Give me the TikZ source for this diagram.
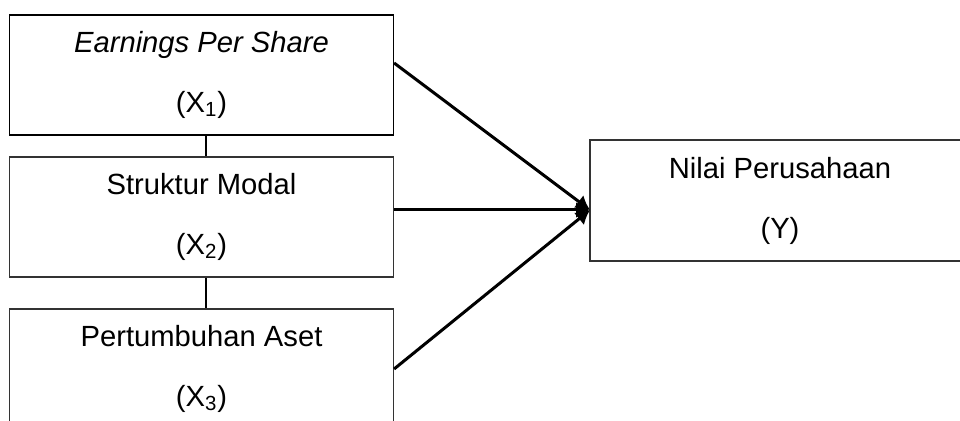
\documentclass[tikz,border=0pt]{standalone}
\usepackage{fontspec}
\setmainfont{Liberation Sans}
\usepackage{tikz}
\usetikzlibrary{positioning, arrows.meta, calc}

\begin{document}
\begin{tikzpicture}[
    x=0.5pt, y=-0.5pt,
    every node/.style={rectangle, draw=black!80, line width=0.6pt, align=center,
        font=\fontsize{14.6}{30}\selectfont},
    variabel/.style={minimum width=192pt, minimum height=60pt},
    hasil/.style={minimum width=190pt, minimum height=60.5pt},
    panah/.style={->, line width=1.5pt},
    garis/.style={line width=0.6pt},
    >={Latex[length=7pt, width=8pt]}
]
\useasboundingbox (0,0) rectangle (960,421);
\clip (0,0) rectangle (960,421);

% variabel independen
\node[variabel, draw=black] (x1) at (201.5,75) {\textit{Earnings Per Share}\\(X\textsubscript{1})};
\node[variabel] (x2) at (201.5,217) {Struktur Modal\\(X\textsubscript{2})};
\node[variabel] (x3) at (201.5,369) {Pertumbuhan Aset\\(X\textsubscript{3})};

% variabel dependen
\node[hasil] (y) at (780,200.5) {Nilai Perusahaan\\(Y)};
\coordinate (hub) at (590,210);

% garis antar variabel X
\draw[garis] ([xshift=2.25pt]x1.south) -- ([xshift=2.25pt]x2.north);
\draw[garis] ([xshift=2.25pt]x2.south) -- ([xshift=2.25pt]x3.north);

% panah ke Y
\draw[panah] ([yshift=6pt]x1.east) -- (hub);
\draw[panah] (x2.east |- hub) -- (hub);
\draw[panah] (x3.east) -- (hub);

\end{tikzpicture}
\end{document}
